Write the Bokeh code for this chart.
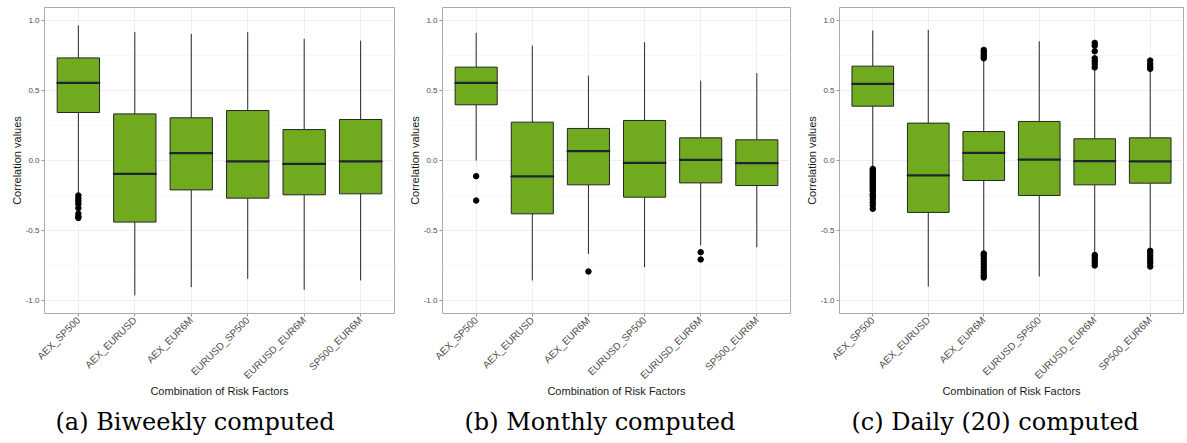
import math
from bokeh.plotting import figure
from bokeh.models import FactorRange, Range1d, FixedTicker, Title
from bokeh.layouts import row
from bokeh.embed import file_html
from bokeh.resources import INLINE

categories = ["AEX_SP500", "AEX_EURUSD", "AEX_EUR6M", "EURUSD_SP500", "EURUSD_EUR6M", "SP500_EUR6M"]

# (a) Biweekly computed
bi_upper = [0.965, 0.917, 0.905, 0.917, 0.869, 0.857]
bi_q3 = [0.733, 0.333, 0.305, 0.357, 0.221, 0.293]
bi_median = [0.555, -0.095, 0.052, -0.007, -0.024, -0.007]
bi_q1 = [0.343, -0.440, -0.210, -0.269, -0.245, -0.238]
bi_lower = [-0.236, -0.964, -0.905, -0.845, -0.924, -0.857]
bi_out_cat = ["AEX_SP500"] * 8
bi_out_val = [-0.25, -0.27, -0.29, -0.31, -0.34, -0.38, -0.40, -0.41]

# (b) Monthly computed
mo_upper = [0.912, 0.821, 0.607, 0.845, 0.571, 0.624]
mo_q3 = [0.667, 0.274, 0.229, 0.286, 0.162, 0.148]
mo_median = [0.555, -0.114, 0.067, -0.017, 0.005, -0.019]
mo_q1 = [0.398, -0.381, -0.174, -0.262, -0.160, -0.179]
mo_lower = [0.000, -0.857, -0.667, -0.762, -0.607, -0.619]
mo_out_cat = ["AEX_SP500", "AEX_SP500", "AEX_EUR6M", "EURUSD_EUR6M", "EURUSD_EUR6M"]
mo_out_val = [-0.112, -0.286, -0.793, -0.655, -0.707]

# (c) Daily (20) computed
da_upper = [0.929, 0.933, 0.720, 0.852, 0.655, 0.643]
da_q3 = [0.674, 0.267, 0.207, 0.279, 0.155, 0.162]
da_median = [0.548, -0.107, 0.055, 0.007, -0.005, -0.007]
da_q1 = [0.388, -0.371, -0.143, -0.250, -0.174, -0.162]
da_lower = [-0.048, -0.900, -0.655, -0.829, -0.667, -0.643]
da_out_aex_sp500 = [-0.06, -0.07, -0.08, -0.09, -0.10, -0.11, -0.12, -0.13, -0.14, -0.15,
                    -0.16, -0.17, -0.18, -0.19, -0.20, -0.21, -0.22, -0.24, -0.25, -0.26,
                    -0.28, -0.30, -0.32, -0.345]
da_out_aex_eur6m = [0.73, 0.745, 0.76, 0.775, 0.79, -0.665, -0.68, -0.70, -0.72, -0.74,
                    -0.76, -0.78, -0.80, -0.82, -0.836]
da_out_eurusd_eur6m = [0.665, 0.69, 0.71, 0.73, 0.78, 0.82, 0.84, -0.675, -0.69, -0.71,
                       -0.73, -0.75]
da_out_sp500_eur6m = [0.655, 0.67, 0.69, 0.714, -0.645, -0.66, -0.68, -0.70, -0.72, -0.735,
                      -0.758]
da_out_cat = (["AEX_SP500"] * len(da_out_aex_sp500) + ["AEX_EUR6M"] * len(da_out_aex_eur6m)
              + ["EURUSD_EUR6M"] * len(da_out_eurusd_eur6m) + ["SP500_EUR6M"] * len(da_out_sp500_eur6m))
da_out_val = da_out_aex_sp500 + da_out_aex_eur6m + da_out_eurusd_eur6m + da_out_sp500_eur6m

captions = ["(a) Biweekly computed", "(b) Monthly computed", "(c) Daily (20) computed"]
y_ticks = [-1.0, -0.5, 0.0, 0.5, 1.0]
y_tick_labels = ["-1.0", "-0.5", "0.0", "0.5", "1.0"]
y_minor = [-0.75, -0.25, 0.25, 0.75]

FILL = "#70aa1e"
EDGE = "#262626"
SANS = "Liberation Sans"


def panel(upper, q3, med, q1, lower, out_cat, out_val, caption, fw, right_border, cap_offset):
    p = figure(
        x_range=FactorRange(factors=categories, range_padding=0.1, range_padding_units="absolute"),
        y_range=Range1d(-1.093, 1.093),
        frame_width=fw, frame_height=306,
        output_backend="svg", toolbar_location=None,
        min_border_left=44, min_border_top=7, min_border_bottom=0,
        min_border_right=right_border,
        background_fill_color="white", border_fill_color="white",
    )
    p.outline_line_color = "#aaaaaa"
    p.outline_line_width = 1

    p.xgrid.grid_line_color = "#efefef"
    p.ygrid.grid_line_color = "#efefef"
    p.ygrid.minor_grid_line_color = "#f8f8f8"

    p.yaxis.ticker = FixedTicker(ticks=y_ticks, minor_ticks=y_minor)
    p.yaxis.major_label_overrides = dict(zip(y_ticks, y_tick_labels))

    for ax in (p.xaxis[0], p.yaxis[0]):
        ax.axis_line_color = None
        ax.major_tick_in = 0
        ax.major_tick_out = 3
        ax.minor_tick_in = 0
        ax.minor_tick_out = 0
        ax.major_tick_line_color = "#999999"
        ax.major_label_text_font = SANS
        ax.major_label_text_color = "#4d4d4d"
        ax.major_label_standoff = 2
        ax.axis_label_text_font = SANS
        ax.axis_label_text_font_size = "11px"
        ax.axis_label_text_font_style = "normal"
        ax.axis_label_text_color = "#1a1a1a"

    p.xaxis.major_label_text_font_size = "10px"
    p.yaxis.major_label_text_font_size = "8px"
    p.yaxis.axis_label = "Correlation values"
    p.yaxis.axis_label_standoff = 0
    p.xaxis.axis_label = "Combination of Risk Factors"
    p.xaxis.axis_label_standoff = -3
    p.xaxis.major_label_orientation = math.pi / 4

    # whiskers
    p.segment(x0=categories, y0=q3, x1=categories, y1=upper, line_color=EDGE, line_width=1)
    p.segment(x0=categories, y0=lower, x1=categories, y1=q1, line_color=EDGE, line_width=1)
    # boxes
    p.vbar(x=categories, top=q3, bottom=q1, width=0.75, fill_color=FILL,
           line_color=EDGE, line_width=1)
    # medians
    p.hbar(y=med, left=[(c, -0.375) for c in categories], right=[(c, 0.375) for c in categories],
           height=0.0001, line_color="#1c2430", line_width=2.2, fill_color=None)
    # outliers
    p.scatter(x=out_cat, y=out_val, size=5.5, fill_color="black", line_color="black")

    t = Title(text=caption, align="left", offset=cap_offset, text_font="DejaVu Serif",
              text_font_size="24px", text_font_style="normal", text_color="black", standoff=12)
    p.add_layout(t, "below")
    return p


p1 = panel(bi_upper, bi_q3, bi_median, bi_q1, bi_lower, bi_out_cat, bi_out_val, captions[0],
           350, 4, 11)
p2 = panel(mo_upper, mo_q3, mo_median, mo_q1, mo_lower, mo_out_cat, mo_out_val, captions[1],
           348, 5, 22)
p3 = panel(da_upper, da_q3, da_median, da_q1, da_lower, da_out_cat, da_out_val, captions[2],
           344, 2, 12)

layout = row(p1, p2, p3)
open("out.html", "w").write(file_html(layout, INLINE))
